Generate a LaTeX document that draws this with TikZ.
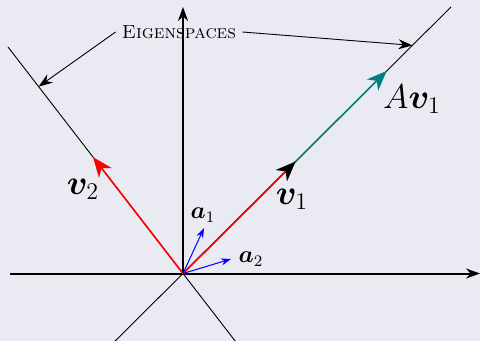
\documentclass[tikz,border=0pt]{standalone}
\usepackage{amsmath,bm}
\usetikzlibrary{arrows.meta,calc}
\definecolor{bgcol}{HTML}{EAEAF2}
\definecolor{tealc}{RGB}{0,128,128}
\begin{document}
\begin{tikzpicture}[x=0.5pt,y=-0.5pt,
  axis/.style={line width=1pt,-{Stealth[length=7pt,width=5pt]}},
  eigline/.style={line width=0.45pt},
  pointer/.style={line width=0.45pt,-{Stealth[length=7pt,width=5pt]}},
  bigvec/.style={line width=0.8pt,-{Stealth[length=10pt,width=8pt,inset=3pt]}},
  smallvec/.style={line width=0.5pt,-{Stealth[length=5pt,width=3.5pt]}},
  biglabel/.style={font=\fontsize{17.28}{20}\selectfont},
  smalllabel/.style={font=\fontsize{12}{14}\selectfont}]
\fill[bgcol] (0,0) rectangle (480,341);
\useasboundingbox (0,0) rectangle (480,341);
\clip (0,0) rectangle (480,341);
\coordinate (O) at (183,273.5);
\coordinate (e1) at (451,7);
\coordinate (e2) at (8,47);
\coordinate (e1b) at ($(O)!-0.3!(e1)$);
\coordinate (e2b) at ($(O)!-0.35!(e2)$);
\coordinate (v1) at ($(O)!0.42!(e1)$);
\coordinate (Av1) at ($(O)!0.76!(e1)$);
\coordinate (v2) at ($(O)!0.514!(e2)$);
\coordinate (a1) at (204,228);
\coordinate (a2) at (231,259);
\coordinate (xl) at (10,273.5);
\coordinate (xr) at (480,273.5);
\coordinate (yt) at (183,7);
\coordinate (p1) at ($(O)!0.825!(e2)$);
\coordinate (p2) at ($(O)!0.856!(e1)$);
% eigenspace lines
\draw[eigline] (e1b) -- (e1);
\draw[eigline] (e2b) -- (e2);
% axes
\draw[axis] (xl) -- (xr);
\draw[axis] (O) -- (yt);
% vectors
\draw[bigvec,tealc] (O) -- (Av1);
\draw[line width=0.8pt,red,-{Stealth[length=10pt,width=8pt,inset=3pt,black]}] (O) -- (v1);
\draw[bigvec,red] (O) -- (v2);
\draw[smallvec,blue] (O) -- (a1);
\draw[smallvec,blue] (O) -- (a2);
% labels
\node[biglabel] (lv1) at (292,199) {$\boldsymbol{v}_1$};
\node[biglabel] (lv2) at (83,189) {$\boldsymbol{v}_2$};
\node[biglabel] (lAv1) at (412,99) {$A\boldsymbol{v}_1$};
\node[smalllabel] (la1) at (203,215) {$\boldsymbol{a}_1$};
\node[smalllabel] (la2) at (251,259) {$\boldsymbol{a}_2$};
\node[font=\fontsize{9.5}{11}\selectfont,inner sep=3pt] (eig) at (179,32) {\textsc{Eigenspaces}};
\draw[pointer] (eig.west) -- (p1);
\draw[pointer] (eig.east) -- (p2);
\end{tikzpicture}
\end{document}
